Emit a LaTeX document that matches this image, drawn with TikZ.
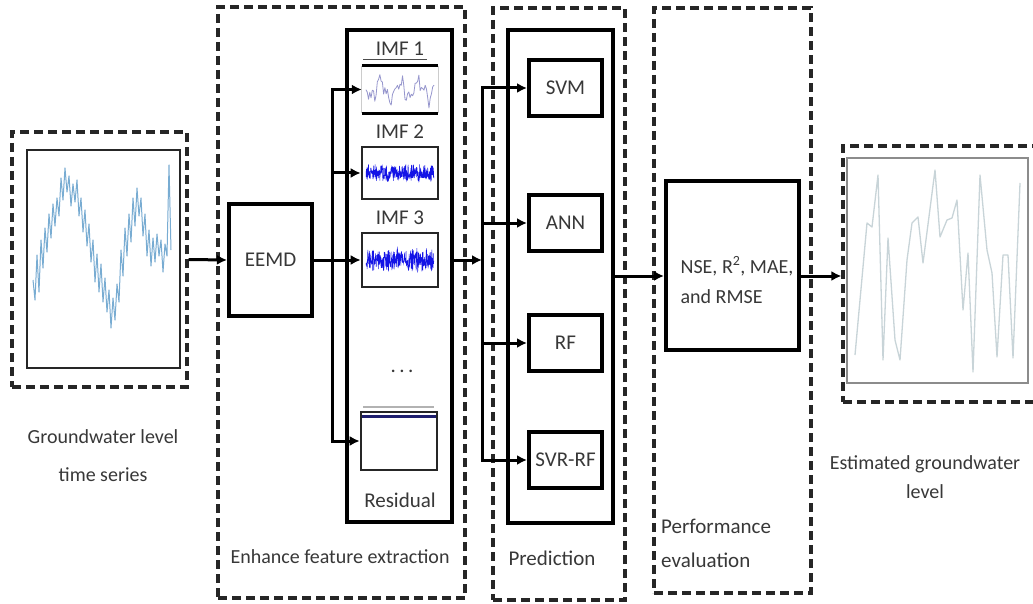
\documentclass[tikz,border=0pt]{standalone}
\usepackage{fontspec}
\setmainfont{Carlito}
\usetikzlibrary{arrows.meta}
\definecolor{srcblue}{RGB}{120,172,210}
\definecolor{estgray}{RGB}{200,212,216}
\definecolor{imfblue}{RGB}{20,20,230}
\definecolor{imflav}{RGB}{150,150,205}
\definecolor{resnavy}{RGB}{30,30,110}
\tikzset{
  dashedframe/.style={draw=black!85, line width=3.2pt, dash pattern=on 9pt off 5pt, inner sep=0pt},
  solidbox/.style={draw=black, line width=4pt, inner sep=0pt},
  plotframe/.style={draw=black!85, line width=2.6pt, inner sep=0pt},
  lbl/.style={text=black!78, font=\fontsize{21}{25}\selectfont, inner sep=0pt},
  caption/.style={text=black!78, inner sep=0pt, align=center},
  link/.style={draw=black, line width=3pt},
  flowarrow/.style={link, -{Latex[length=10pt,width=10pt]}},
}
\begin{document}
\begin{tikzpicture}[x=1pt, y=-1pt]
\fill[white] (0,0) rectangle (1033,604);
\useasboundingbox (0,0) rectangle (1033,604);

% ---------- stage frames ----------
\node[dashedframe, minimum width=175, minimum height=255] (srcframe) at (99.5,259.5) {};
\node[dashedframe, minimum width=247, minimum height=591] (enhframe) at (341.5,302.5) {};
\node[dashedframe, minimum width=132, minimum height=592] (predframe) at (559,304) {};
\node[dashedframe, minimum width=157, minimum height=585] (perfframe) at (732.5,300.5) {};
\node[dashedframe, minimum width=202, minimum height=256] (estframe) at (944,274) {};

% ---------- input series ----------
\node[plotframe, minimum width=153, minimum height=218] (srcplot) at (103.5,259) {};
\draw[srcblue, line width=1pt, line join=round] plot coordinates {
  (33,280) (35,300) (37,255) (39,292) (41,240) (43,268) (45,228) (47,252) (49,214)
  (51,238) (53,204) (55,226) (57,198) (59,216) (61,178) (63,200) (65,168) (67,192)
  (69,176) (71,206) (73,184) (75,202) (77,180) (79,216) (81,198) (83,232) (85,210)
  (87,246) (89,224) (91,262) (93,240) (95,282) (97,254) (99,292) (101,264) (103,302)
  (105,278) (107,312) (109,290) (111,328) (113,298) (115,320) (117,284) (119,302)
  (121,250) (123,276) (125,228) (127,256) (129,214) (131,242) (133,198) (135,226)
  (137,188) (139,216) (141,198) (143,236) (145,214) (147,256) (149,230) (151,266)
  (153,238) (155,262) (157,234) (159,256) (161,240) (163,272) (165,244) (167,256)
  (169,165) (171,250)};
\node[caption, font=\fontsize{20}{38}\selectfont] (srccap) at (103,456) {Groundwater level\\time series};

% ---------- decomposition ----------
\node[solidbox, lbl, minimum width=83, minimum height=112] (eemd) at (270.5,260) {EEMD};
\node[solidbox, minimum width=105, minimum height=492] (imfbox) at (399.5,276) {};

\node[lbl] (imf1lbl) at (400,49) {IMF 1};
\draw[black!70, line width=0.8pt] (363,59) -- (427,59);
\node[inner sep=0pt, minimum width=76, minimum height=47] (imf1) at (400,89.5) {};
\draw[gray!40, line width=1pt] (imf1.north west) -- (imf1.south west) (imf1.north east) -- (imf1.south east);
\pgfmathsetseed{5}
\draw[imflav, line width=0.8pt, line join=round]
  plot[domain=0:68, samples=55] ({366+\x}, {90 + 8*sin(\x*19) + 5*sin(\x*47) + 6*rand});
\draw[black, line width=3pt] (imf1.north west) -- (imf1.north east) (imf1.south west) -- (imf1.south east);

\node[lbl] (imf2lbl) at (400,132) {IMF 2};
\node[plotframe, minimum width=76, minimum height=52] (imf2) at (400,173) {};
\draw[imfblue, line width=0.5pt]
  plot[domain=0:68, samples=300] ({366+\x}, {173 + (5+4*abs(sin(\x*29)))*rand});

\node[lbl] (imf3lbl) at (400,218) {IMF 3};
\node[plotframe, minimum width=76, minimum height=54] (imf3) at (400,260) {};
\draw[imfblue, line width=0.5pt]
  plot[domain=0:68, samples=300] ({366+\x}, {260 + (6+6*abs(sin(\x*37)))*rand});

\node[lbl] (dots) at (402,371) {.\,.\,.};

\draw[gray!60, line width=1.2pt] (363,407) -- (434,407);
\node[draw=black!85, line width=2.6pt, inner sep=0pt, minimum width=76, minimum height=58] (res) at (399,441) {};
\draw[resnavy, line width=3pt] (362,416) -- (436,416);
\node[lbl] (reslbl) at (400,500) {Residual};

\node[caption, font=\fontsize{20}{24}\selectfont] (enhcap) at (340,557) {Enhance feature extraction};

% ---------- prediction models ----------
\node[solidbox, minimum width=105, minimum height=493] (predbox) at (560.5,276.5) {};
\node[solidbox, lbl, minimum width=73, minimum height=56] (svm) at (565.5,88) {SVM};
\node[solidbox, lbl, minimum width=73, minimum height=56] (ann) at (565.5,223) {ANN};
\node[solidbox, lbl, minimum width=73, minimum height=56] (rf) at (565.5,343) {RF};
\node[solidbox, lbl, minimum width=73, minimum height=56] (svr) at (565.5,460) {SVR-RF};
\node[caption, font=\fontsize{21}{25}\selectfont] (predcap) at (552,558) {Prediction};

% ---------- evaluation ----------
\node[solidbox, minimum width=133, minimum height=169] (nse) at (732.5,265.5) {};
\node[lbl, align=left, font=\fontsize{20}{30}\selectfont] (nsetext) at (737,280) {NSE, R\textsuperscript{2}, MAE,\\and RMSE};
\node[caption, align=left, anchor=west, font=\fontsize{21}{34}\selectfont] (perfcap) at (661,543) {Performance\\evaluation};

% ---------- estimated series ----------
\node[draw=black!45, line width=2.2pt, inner sep=0pt, minimum width=181, minimum height=225] (estplot) at (937.5,270.5) {};
\draw[estgray, line width=1.3pt, line join=round] plot coordinates {
  (855,355) (867,223) (872,227) (878,175) (883,360) (888,238) (895,340) (900,360)
  (907,260) (912,223) (918,217) (923,263) (935,170) (940,237) (947,220) (952,218)
  (957,200) (963,310) (968,253) (973,372) (980,175) (987,250) (992,273) (997,357)
  (1003,255) (1008,255) (1013,358) (1020,183)};
\node[caption, font=\fontsize{20}{29}\selectfont] (estcap) at (925,477) {Estimated groundwater\\level};

% ---------- connectors ----------
\coordinate (ebus) at (332,0);
\coordinate (pbus) at (482,0);
\coordinate (flow) at (640,276);

\draw[flowarrow] (srcframe.east) -- (eemd.west);
\draw[link] (eemd.east) -- (eemd.east -| ebus);
\draw[link, line cap=rect] (imf1.west -| ebus) -- (res.west -| ebus);
\draw[flowarrow] (imf1.west -| ebus) -- (imf1.west);
\draw[flowarrow] (imf2.west -| ebus) -- (imf2.west);
\draw[flowarrow] (imf3.west -| ebus) -- (imf3.west);
\draw[flowarrow] (res.west -| ebus) -- (res.west);

\draw[flowarrow] (imfbox.east |- imf3.west) -- (imf3.west -| pbus);
\draw[link, line cap=rect] (svm.west -| pbus) -- (svr.west -| pbus);
\draw[flowarrow] (svm.west -| pbus) -- (svm.west);
\draw[flowarrow] (ann.west -| pbus) -- (ann.west);
\draw[flowarrow] (rf.west -| pbus) -- (rf.west);
\draw[flowarrow] (svr.west -| pbus) -- (svr.west);

\draw[flowarrow] (predbox.east |- flow) -- (nse.west |- flow);
\draw[flowarrow] (nse.east |- flow) -- (estframe.west |- flow);
\end{tikzpicture}
\end{document}
